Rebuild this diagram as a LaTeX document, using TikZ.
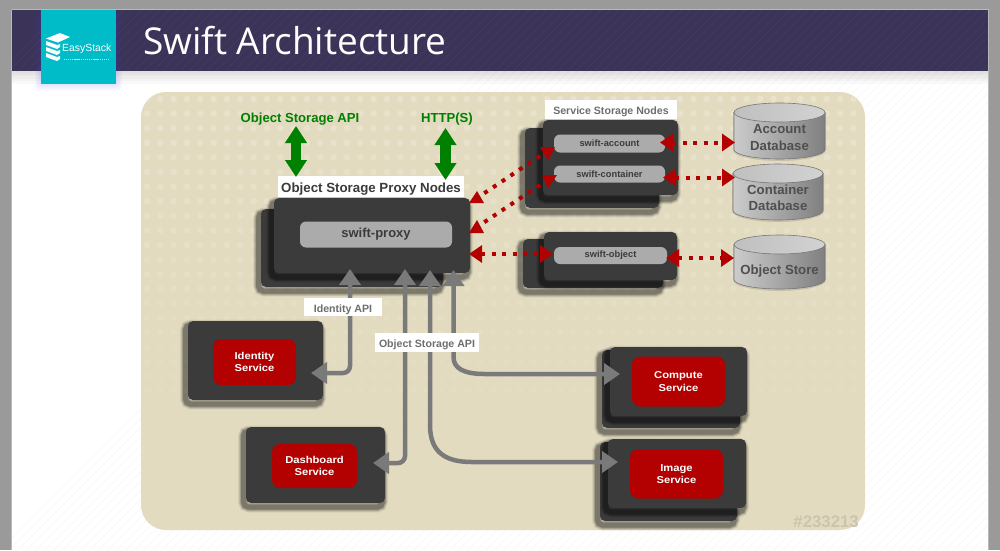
\documentclass[tikz,border=0pt]{standalone}
\usepackage{fontspec}
\setmainfont{Liberation Sans}
\newfontfamily\titlefont{Open Sans}
\newfontfamily\widefont[FakeStretch=1.12]{Liberation Sans}
\usetikzlibrary{arrows.meta}
\definecolor{framegray}{HTML}{9A9A9A}
\definecolor{headbar}{HTML}{3B3358}
\definecolor{logoteal}{HTML}{00BCC8}
\definecolor{tanback}{HTML}{E2DBC0}
\definecolor{tandot}{HTML}{E9E3CE}
\definecolor{boxdark}{HTML}{3B3B3B}
\definecolor{pillgray}{HTML}{ABABAB}
\definecolor{redbox}{HTML}{B30000}
\definecolor{linkgray}{HTML}{7A7A7A}
\definecolor{greenapi}{HTML}{008000}
\definecolor{labeltext}{HTML}{6E6E6E}
\tikzset{
  shadowpart/.style={transform canvas={shift={(-2.5pt,-4pt)}}},
  softshadow/.style={
    preaction={draw=black,draw opacity=.05,line width=11pt,shadowpart},
    preaction={draw=black,draw opacity=.07,line width=9.5pt,shadowpart},
    preaction={draw=black,draw opacity=.10,line width=8pt,shadowpart},
    preaction={draw=black,draw opacity=.14,line width=6.5pt,shadowpart},
    preaction={draw=black,draw opacity=.18,line width=5pt,shadowpart}},
  darkbox/.style={softshadow,fill=boxdark,rounded corners=5pt,inner sep=0pt},
  pill/.style={fill=pillgray,rounded corners=6pt,inner sep=0pt,text=boxdark,font=\bfseries\fontsize{9.3}{11}\selectfont},
  redservice/.style={fill=redbox,rounded corners=8pt,inner sep=0pt,text=white,align=center,font=\widefont\bfseries\fontsize{10}{12.5}\selectfont},
  graytag/.style={fill=white,inner sep=0pt,text=labeltext,text height=10.6pt,text depth=0pt,font=\bfseries\fontsize{10.6}{12}\selectfont},
  greentext/.style={text=greenapi,font=\bfseries\fontsize{13.1}{15}\selectfont},
  dbtext/.style={text=boxdark!90,align=center,font=\bfseries\fontsize{13.2}{16.5}\selectfont},
  graylink/.style={draw=linkgray,line width=4.5pt,{Triangle[length=16pt,width=21pt]}-{Triangle[length=16pt,width=21pt]}},
  greenlink/.style={draw=greenapi,line width=10.5pt,{Triangle[length=17pt,width=21pt]}-{Triangle[length=17pt,width=21pt]}},
  redline/.style={draw=redbox,line width=4pt,dash pattern=on 4pt off 6.5pt},
  redlink/.style={redline,{Triangle[length=13pt,width=17pt]}-{Triangle[length=13pt,width=17pt]}},
  redhead/.style={fill=redbox},
  cylside/.style={left color=gray!40,middle color=gray!70,right color=gray!100,draw=boxdark!70,line width=.6pt},
  cyltop/.style={left color=gray!50,right color=gray!35,draw=boxdark!70,line width=.6pt}
}
\newcommand{\dbcyl}[5]{% left, top, right, bottom, name
  \fill[black,opacity=.12] (#1-1,#2+9) -- (#1-1,#4-9) arc[start angle=180,end angle=0,x radius={(#3-#1)/2+1},y radius=11] -- (#3+1,#2+9) -- cycle;
  \draw[cylside] (#1,#2+9.5) -- (#1,#4-9.5) arc[start angle=180,end angle=0,x radius={(#3-#1)/2},y radius=9.5] -- (#3,#2+9.5) -- cycle;
  \draw[cyltop] ({(#1+#3)/2},#2+9.5) ellipse[x radius={(#3-#1)/2},y radius=9.5];
  \coordinate (#5) at ({(#1+#3)/2},{(#2+#4)/2+5});
}
\begin{document}
\begin{tikzpicture}[x=1pt,y=-1pt]
\useasboundingbox (0,0) rectangle (1000,550);
\fill[framegray] (0,0) rectangle (1000,550);
\fill[white] (12,10) rectangle (988,550);
\draw[gray!55,line width=.8pt] (11.5,9.5) -- (988.5,9.5) (11.5,9.5) -- (11.5,550) (988.5,9.5) -- (988.5,550);
% faint hatching on the slide
\begin{scope}
\clip (12,71) rectangle (988,550);
\foreach \i in {0,9,...,1530} \draw[black!3,line width=.5pt] (\i,550) -- (\i+490,60);
\end{scope}
\foreach \i in {0,...,5} \fill[black,opacity=.025] (12,71) rectangle (988,71+\i*2.5);
\fill[headbar] (12,10) rectangle (988,71);
\begin{scope}
\clip (12,10) rectangle (988,71);
\foreach \i in {0,9,...,1060} \draw[white!5!headbar,line width=.5pt] (\i,71) -- (\i+61,10);
\end{scope}
\node[text=white,anchor=west,inner sep=0pt,font=\titlefont\fontsize{37}{42}\selectfont] (title) at (143,41) {Swift Architecture};

% logo
\foreach \i in {1,...,5} \fill[blue!70,opacity=.03,rounded corners=3pt] (41-\i*1.2,12) rectangle (116+\i*1.2,83+\i*1.5);
\node[fill=logoteal,minimum width=75pt,minimum height=73.5pt,inner sep=0pt] (logo) at (78.5,46.75) {};
\node[text=white,anchor=west,inner sep=0pt,font=\fontsize{10.4}{12}\selectfont] (logotext) at (62,49) {EasyStack};
\fill[white] (46,38.5) -- (60,33) -- (70,37) -- (58,42.5) -- cycle;
\fill[white] (46,41) -- (57,45) -- (60,44) -- (60,47) -- (57,49) -- (46,45) -- cycle;
\fill[white] (46,47) -- (57,51) -- (60,50) -- (60,53) -- (57,55) -- (46,51) -- cycle;
\fill[white] (46,53) -- (57,57) -- (60,56) -- (60,59) -- (57,61) -- (46,57) -- cycle;
\draw[white,opacity=.7,line width=1pt,dash pattern=on 1.2pt off .7pt] (64,59) -- (108,59);

% panel
\fill[tanback,rounded corners=25pt] (141,92) rectangle (865,530);
\begin{scope}
\clip[rounded corners=25pt] (141,92) rectangle (865,530);
\foreach \r in {0,...,26}
  \foreach \c in {0,...,53}
    \fill[tandot,opacity={max(0,1-\r/27)}] (147+\c*13.33,99+\r*14.6) circle[radius=3.3];
\end{scope}
\node[text=black!10!tanback,anchor=east,inner sep=0pt,font=\bfseries\fontsize{16.8}{18}\selectfont] (refnum) at (859,522) {\#233213};

% proxy
\node[darkbox,minimum width=182pt,minimum height=78pt] (proxyback) at (352,248) {};
\node[darkbox,minimum width=196pt,minimum height=75pt] (proxyfront) at (372,235.5) {};
\node[pill,minimum width=152pt,minimum height=26pt,font=\bfseries\fontsize{13}{15}\selectfont] (swiftproxy) at (376,234.5) {swift-proxy};
\node[fill=white,inner sep=0pt,minimum width=186pt,minimum height=21pt,text=boxdark,text height=12.5pt,text depth=0pt,font=\bfseries\fontsize{13.3}{15}\selectfont] (proxylabel) at (371,186) {Object Storage Proxy Nodes};

% storage nodes
\node[darkbox,minimum width=134pt,minimum height=80pt] (acctback) at (592,168) {};
\node[darkbox,minimum width=135pt,minimum height=75pt] (acctfront) at (610.5,157.5) {};
\node[pill,minimum width=111pt,minimum height=18pt] (swiftaccount) at (609.5,143.5) {swift-account};
\node[pill,minimum width=111pt,minimum height=17pt] (swiftcontainer) at (609.5,174) {swift-container};
\node[graytag,minimum width=132pt,minimum height=19pt] (storelabel) at (611,109.5) {Service Storage Nodes};
\node[darkbox,minimum width=140pt,minimum height=49pt] (objback) at (593,263.5) {};
\node[darkbox,minimum width=133pt,minimum height=48pt] (objfront) at (610.5,256) {};
\node[pill,minimum width=113pt,minimum height=17pt] (swiftobject) at (610.5,255.5) {swift-object};

% databases
\dbcyl{734}{103}{825}{159}{acctdb}
\node[dbtext] (acctdbtext) at (779.5,137.5) {Account\\Database};
\dbcyl{733}{164}{823}{220}{contdb}
\node[dbtext] (contdbtext) at (778,198) {Container\\Database};
\dbcyl{734}{235}{825}{289}{objdb}
\node[dbtext] (objdbtext) at (779.5,271.5) {Object Store};

% services
\node[darkbox,minimum width=135pt,minimum height=79pt] (identity) at (255.5,360.5) {};
\node[redservice,minimum width=83pt,minimum height=46pt] (identityred) at (254.5,362) {Identity\\Service};
\node[darkbox,minimum width=139pt,minimum height=76pt] (dashboard) at (315.5,465) {};
\node[redservice,minimum width=85pt,minimum height=44pt] (dashboardred) at (314.5,466) {Dashboard\\Service};
\node[darkbox,minimum width=138pt,minimum height=78pt] (computeback) at (671,389) {};
\node[darkbox,minimum width=137pt,minimum height=69pt] (computefront) at (678.5,381.5) {};
\node[redservice,minimum width=93pt,minimum height=50pt] (computered) at (678.5,381.5) {Compute\\Service};
\node[darkbox,minimum width=137pt,minimum height=79pt] (imageback) at (668.5,481.5) {};
\node[darkbox,minimum width=138pt,minimum height=69pt] (imagefront) at (677,473.5) {};
\node[redservice,minimum width=93pt,minimum height=49pt] (imagered) at (676.5,474) {Image\\Service};

% gray links
\coordinate (idtop) at (350,269);
\coordinate (idend) at (311,373);
\coordinate (dashtop) at (405,269);
\coordinate (dashend) at (373,463);
\coordinate (imgtop) at (430,270);
\coordinate (imgend) at (618,462);
\coordinate (comptop) at (453.5,270);
\coordinate (compend) at (620,374);
\draw[graylink,rounded corners=7pt] (idtop) |- (idend);
\draw[graylink,rounded corners=7pt] (dashtop) |- (dashend);
\draw[graylink] (imgtop) -- (430,425) .. controls (430,452) and (445,462) .. (472,462) -- (imgend);
\draw[graylink] (comptop) -- (453.5,357) .. controls (453.5,368) and (463,374) .. (485,374) -- (compend);
\node[graytag,minimum width=78pt,minimum height=18pt] (idlabel) at (343,307) {Identity API};
\node[graytag,minimum width=104pt,minimum height=19pt] (objlabel) at (427,342.5) {Object Storage API};

% green links
\node[greentext] (apilabel) at (300,119.5) {Object Storage API};
\node[greentext] (httplabel) at (447,119.5) {HTTP(S)};
\coordinate (apitop) at (296,126);
\coordinate (apibot) at (296,177);
\coordinate (httptop) at (445.5,128);
\coordinate (httpbot) at (445.5,180);
\draw[greenlink] (apitop) -- (apibot);
\draw[greenlink] (httptop) -- (httpbot);

% red links
\coordinate (acctl) at (660,142.5);
\coordinate (acctr) at (735,142.5);
\coordinate (contl) at (663,177.5);
\coordinate (contr) at (735,177.5);
\coordinate (objl) at (666,258);
\coordinate (objr) at (734,258);
\coordinate (proxyr) at (469,254);
\coordinate (objin) at (553,254);
\draw[redlink] (acctl) -- (acctr);
\draw[redlink] (contl) -- (contr);
\draw[redlink] (objl) -- (objr);
\draw[redlink] (proxyr) -- (objin);
\coordinate (acctfrom) at (540,156);
\coordinate (acctto) at (477,198);
\coordinate (contfrom) at (540,185);
\coordinate (contto) at (477,227);
\draw[redline] (acctfrom) -- (acctto);
\draw[redline] (contfrom) -- (contto);
\fill[redhead] (540,147) -- (555,147) -- (548,160) -- cycle;
\fill[redhead] (542,175) -- (557,175) -- (548,188) -- cycle;
\fill[redhead] (469,203) -- (477,191) -- (484,203) -- cycle;
\fill[redhead] (469,233) -- (477,220) -- (484,233) -- cycle;
\end{tikzpicture}
\end{document}
